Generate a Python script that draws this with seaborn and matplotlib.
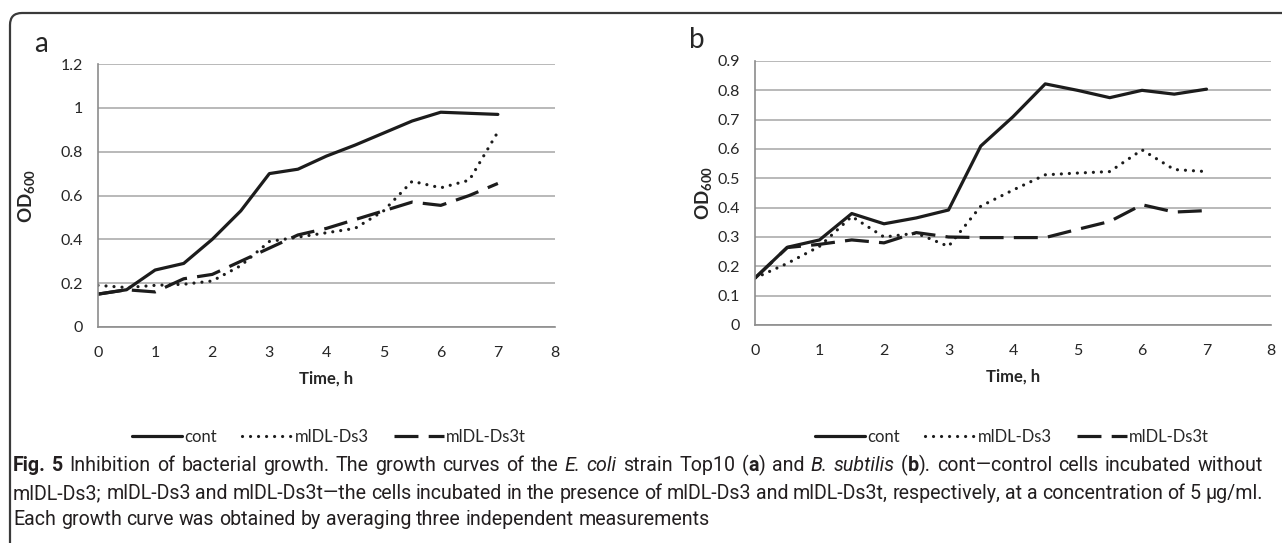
import matplotlib
matplotlib.use('Agg')
import matplotlib.pyplot as plt
import seaborn as sns
import pandas as pd
from matplotlib import font_manager
from matplotlib.patches import FancyBboxPatch
from matplotlib.transforms import IdentityTransform

# time points (h)
time_h = [0, 0.5, 1, 1.5, 2, 2.5, 3, 3.5, 4, 4.5, 5, 5.5, 6, 6.5, 7]

# panel a - E. coli Top10
a_cont = [0.15, 0.17, 0.26, 0.29, 0.40, 0.53, 0.70, 0.72, 0.78, 0.83, 0.885, 0.94, 0.98, 0.975, 0.97]
a_ds3 = [0.19, 0.18, 0.19, 0.195, 0.21, 0.28, 0.39, 0.41, 0.43, 0.45, 0.53, 0.665, 0.635, 0.67, 0.89]
a_ds3t = [0.15, 0.17, 0.16, 0.22, 0.24, 0.30, 0.36, 0.42, 0.45, 0.49, 0.53, 0.57, 0.555, 0.60, 0.655]

# panel b - B. subtilis
b_cont = [0.16, 0.265, 0.29, 0.38, 0.345, 0.365, 0.392, 0.61, 0.71, 0.822, 0.80, 0.775, 0.80, 0.787, 0.804]
b_ds3 = [0.16, 0.21, 0.268, 0.37, 0.30, 0.313, 0.268, 0.405, 0.46, 0.512, 0.518, 0.523, 0.597, 0.53, 0.523]
b_ds3t = [0.16, 0.264, 0.275, 0.29, 0.28, 0.315, 0.30, 0.298, 0.298, 0.298, 0.326, 0.353, 0.41, 0.385, 0.39]

series_names = ['cont', 'mlDL-Ds3', 'mlDL-Ds3t']

sns.set_theme(style='white')
installed = {f.name for f in font_manager.fontManager.ttflist}
chart_font = 'Lato' if 'Lato' in installed else 'DejaVu Sans'
caption_font = 'Roboto' if 'Roboto' in installed else 'DejaVu Sans'
plt.rcParams['font.family'] = [chart_font, 'DejaVu Sans']
plt.rcParams['mathtext.fontset'] = 'custom'
plt.rcParams['mathtext.rm'] = chart_font
plt.rcParams['mathtext.bf'] = chart_font + ':bold'

ink = '#1c1c1c'
grid_c = '#a6a6a6'
axis_c = '#8c8c8c'
txt_c = '#262626'

styles = {
    'cont': dict(ls='-'),
    'mlDL-Ds3': dict(ls=(0, (0.01, 2.5)), dash_capstyle='round'),
    'mlDL-Ds3t': dict(ls=(0, (7.5, 3.2))),
}

fig = plt.figure(figsize=(12.82, 5.43), dpi=100)

# outer frame (rounded top-left corner)
frame = FancyBboxPatch((10, -40), 1320, 570, boxstyle='round,pad=0,rounding_size=12',
                       transform=IdentityTransform(), fill=False, ec='#3a3a3a', lw=1.6)
fig.add_artist(frame)

ax_a = fig.add_axes([98 / 1282, 1 - 327 / 543, 457 / 1282, 263 / 543])
ax_b = fig.add_axes([755 / 1282, 1 - 325 / 543, 516 / 1282, 264 / 543])

panels = [
    (ax_a, [a_cont, a_ds3, a_ds3t], 1.2, 0.2, 'a', -0.131, (-0.125, 1.075), 329),
    (ax_b, [b_cont, b_ds3, b_ds3t], 0.9, 0.1, 'b', -0.077, (-0.112, 1.08), 1012),
]

for ax, vals, ymax, ystep, tag, ylab_x, tag_xy, leg_x in panels:
    df = pd.DataFrame({'time': time_h * 3,
                       'od': vals[0] + vals[1] + vals[2],
                       'series': sum([[n] * len(time_h) for n in series_names], [])})
    for name in series_names:
        sub = df[df['series'] == name]
        sns.lineplot(data=sub, x='time', y='od', ax=ax, color=ink, lw=2.3,
                     label=name, legend=False, **styles[name])
    ax.set_xlim(0, 8)
    ax.set_ylim(0, ymax)
    ax.set_xticks(range(0, 9))
    nsteps = int(round(ymax / ystep))
    yt = [round(i * ystep, 1) for i in range(nsteps + 1)]
    ax.set_yticks(yt)
    ax.set_yticklabels(['%g' % v for v in yt])
    ax.grid(axis='y', color=grid_c, lw=1.1)
    ax.set_axisbelow(True)
    for s in ['top', 'right']:
        ax.spines[s].set_visible(False)
    for s in ['left', 'bottom']:
        ax.spines[s].set_color(axis_c)
        ax.spines[s].set_linewidth(1.2)
    ax.tick_params(axis='both', direction='out', length=5, width=1.1, color=axis_c,
                   labelsize=11.5, labelcolor=txt_c, pad=6)
    ax.tick_params(axis='x', pad=9)
    ax.set_xlabel('Time, h', fontsize=12, fontweight='bold', color=txt_c)
    ax.xaxis.set_label_coords(0.5, -0.165)
    ax.set_ylabel(r'$\mathbf{OD}_{\mathbf{600}}$', fontsize=13.5, color=txt_c)
    ax.yaxis.set_label_coords(ylab_x, 0.5)
    ax.text(tag_xy[0], tag_xy[1], tag, transform=ax.transAxes,
            fontsize=20, color=txt_c, ha='center', va='center')
    handles, labels = ax.get_legend_handles_labels()
    fig.legend(handles, labels, loc='center', bbox_to_anchor=(leg_x / 1282, 1 - 437 / 543),
               ncol=3, frameon=False, fontsize=12, handlelength=3.0, handletextpad=0.15,
               columnspacing=1.5, labelcolor=txt_c)

# caption, laid out word by word
fig.canvas.draw()
renderer = fig.canvas.get_renderer()

N, B, I = ('normal', 'normal'), ('bold', 'normal'), ('normal', 'italic')


def words(text, fmt=N):
    return [[(w, fmt)] for w in text.split()]


line1 = ([[('Fig.', B)], [('5', B)]]
         + words('Inhibition of bacterial growth. The growth curves of the')
         + [[('E.', I)], [('coli', I)]]
         + words('strain Top10')
         + [[('(', N), ('a', B), (')', N)]]
         + words('and')
         + [[('B.', I)], [('subtilis', I)]]
         + [[('(', N), ('b', B), (').', N)]]
         + words('cont\u2014control cells incubated without'))
line2 = words('mlDL-Ds3; mlDL-Ds3 and mlDL-Ds3t\u2014the cells incubated in the presence of '
              'mlDL-Ds3 and mlDL-Ds3t, respectively, at a concentration of 5 \u00b5g/ml.')
line3 = words('Each growth curve was obtained by averaging three independent measurements')


def put(s, fmt, x, y, size):
    t = fig.text(x, y, s, transform=IdentityTransform(), fontsize=size, fontweight=fmt[0],
                 fontstyle=fmt[1], family=[caption_font, 'DejaVu Sans'], color='#231f20',
                 ha='left', va='baseline')
    return t, t.get_window_extent(renderer).x1


def word_widths(line, size):
    ws = []
    for word in line:
        x = 0
        for s, fmt in word:
            t, x = put(s, fmt, x, -100, size)
            t.remove()
        ws.append(x)
    return ws


def space_width(size):
    t, x1 = put('a a', N, 0, -100, size)
    t.remove()
    t, x2 = put('aa', N, 0, -100, size)
    t.remove()
    return x1 - x2


def draw_line(line, x0, y, size, target=None):
    ws = word_widths(line, size)
    gap = space_width(size)
    if target is not None and len(line) > 1:
        gap = (target - sum(ws)) / (len(line) - 1)
    x = x0
    for word, w in zip(line, ws):
        xx = x
        for s, fmt in word:
            t, xx = put(s, fmt, xx, y, size)
        x += w + gap


x0 = 13
target = 1250
trial = 12
natural = sum(word_widths(line2, trial)) + space_width(trial) * (len(line2) - 1)
size = trial * target / natural

draw_line(line1, x0, 543 - 471, size, target)
draw_line(line2, x0, 543 - 499, size, target)
draw_line(line3, x0, 543 - 525, size)

fig.savefig('out.png', dpi=100)
